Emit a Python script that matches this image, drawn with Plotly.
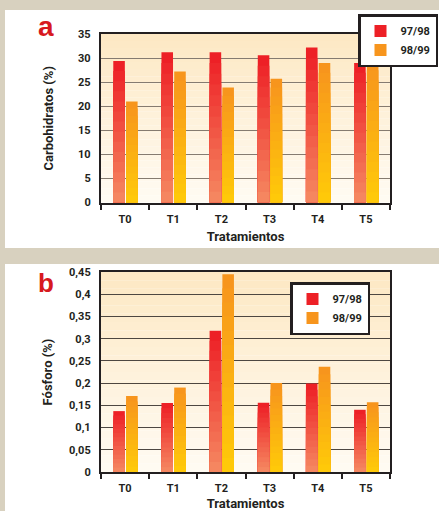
import plotly.graph_objects as go

categories = ["T0", "T1", "T2", "T3", "T4", "T5"]
season_names = ["97/98", "98/99"]
carb_9798 = [29.4, 31.2, 31.2, 30.6, 32.2, 29.0]
carb_9899 = [21.0, 27.2, 23.9, 25.7, 29.0, 29.6]
fosf_9798 = [0.137, 0.155, 0.318, 0.156, 0.199, 0.140]
fosf_9899 = [0.171, 0.190, 0.445, 0.200, 0.237, 0.157]
carb_ticks = [0, 5, 10, 15, 20, 25, 30, 35]
fosf_ticks = [0, 0.05, 0.1, 0.15, 0.2, 0.25, 0.3, 0.35, 0.4, 0.45]

W, H = 439, 511
FONT = "Roboto, Liberation Sans, sans-serif"
DARK = "#231f20"


def hex2rgb(h):
    h = h.lstrip("#")
    return tuple(int(h[i:i + 2], 16) for i in (0, 2, 4))


def mix(c1, c2, t):
    a, b = hex2rgb(c1), hex2rgb(c2)
    return "rgb(%d,%d,%d)" % tuple(round(a[i] + (b[i] - a[i]) * t) for i in range(3))


def px_x(x):
    return x / W


def px_y(y):
    return 1 - y / H


fig = go.Figure()

N = 14
series_styles = [
    ("#ed1c24", "#f58a62", -0.245),
    ("#f7931e", "#ffcb08", 0.02),
]


def add_series(values, name, style, xa, ya, legend):
    top, bottom, offset = style
    for k in range(N):
        frac = (N - k) / N
        t = (k + 0.5) / N
        fig.add_trace(go.Bar(
            x=categories,
            y=[v * frac for v in values],
            name=name,
            legendgroup=legend + name,
            legend=legend,
            showlegend=(k == 0),
            marker=dict(color=mix(top, bottom, t), line=dict(width=0)),
            width=0.24,
            offset=offset,
            xaxis=xa,
            yaxis=ya,
            hoverinfo="skip" if k else None,
        ))


add_series(carb_9798, season_names[0], series_styles[0], "x", "y", "legend")
add_series(carb_9899, season_names[1], series_styles[1], "x", "y", "legend")
add_series(fosf_9798, season_names[0], series_styles[0], "x2", "y2", "legend2")
add_series(fosf_9899, season_names[1], series_styles[1], "x2", "y2", "legend2")

shapes = []
# white panels
shapes.append(dict(type="rect", xref="paper", yref="paper", x0=px_x(5), x1=1.0,
                   y0=px_y(248), y1=px_y(10), fillcolor="white", line=dict(width=0), layer="below"))
shapes.append(dict(type="rect", xref="paper", yref="paper", x0=px_x(5), x1=1.0,
                   y0=0.0, y1=px_y(264), fillcolor="white", line=dict(width=0), layer="below"))
# plot background gradients
NB = 24
for xd, yd in (("x domain", "y domain"), ("x2 domain", "y2 domain")):
    for i in range(NB):
        shapes.append(dict(type="rect", xref=xd, yref=yd, x0=0, x1=1,
                           y0=1 - (i + 1) / NB, y1=1 - i / NB,
                           fillcolor=mix("#fde8c3", "#fffbf3", (i + 0.5) / NB),
                           line=dict(width=0), layer="below"))

axis_common = dict(
    showline=True, linewidth=2.2, linecolor=DARK, mirror=True, automargin=False,
    tickfont=dict(family=FONT, size=11, color=DARK, weight="bold"),
)

xaxis_common = dict(
    axis_common,
    type="category", categoryorder="array", categoryarray=categories,
    range=[-0.5, 5.5], tickson="boundaries", ticks="outside", ticklen=5, tickwidth=2,
    tickcolor=DARK, showgrid=False, zeroline=False,
    domain=[px_x(101), px_x(390)],
    ticklabelstandoff=5,
    title=dict(text="Tratamientos", font=dict(family=FONT, size=13, color=DARK, weight="bold"), standoff=7),
)

yaxis_common = dict(
    axis_common,
    zeroline=False, ticks="", showgrid=True, gridwidth=1.3,
    ticklabelstandoff=6,
)

fig.update_layout(
    width=W, height=H, autosize=False,
    margin=dict(l=0, r=0, t=0, b=0, autoexpand=False),
    paper_bgcolor="#d8d1bf",
    plot_bgcolor="#fffbf3",
    barmode="overlay",
    separators=",.",
    showlegend=True,
    shapes=shapes,
    xaxis=dict(xaxis_common, anchor="y"),
    yaxis=dict(yaxis_common, anchor="x", domain=[px_y(202.5), px_y(34)],
               range=[0, 35], tickvals=carb_ticks, gridcolor="#857b70",
               title=dict(text="Carbohidratos (%)", font=dict(family=FONT, size=13, color=DARK, weight="bold"), standoff=22)),
    xaxis2=dict(xaxis_common, anchor="y2"),
    yaxis2=dict(yaxis_common, anchor="x2", domain=[px_y(472), px_y(272)],
                range=[0, 0.45], tickvals=fosf_ticks, gridcolor="#4d4741",
                title=dict(text="Fósforo (%)", font=dict(family=FONT, size=13, color=DARK, weight="bold"), standoff=14)),
    legend=dict(x=px_x(358), y=px_y(14), xanchor="left", yanchor="top",
                bgcolor="white", bordercolor=DARK, borderwidth=2.5,
                font=dict(family=FONT, size=11, color=DARK, weight="bold"),
                traceorder="normal", itemwidth=30),
    legend2=dict(x=px_x(290), y=px_y(282), xanchor="left", yanchor="top",
                 bgcolor="white", bordercolor=DARK, borderwidth=2.5,
                 font=dict(family=FONT, size=11, color=DARK, weight="bold"),
                 traceorder="normal", itemwidth=30),
    annotations=[
        dict(text="a", xref="paper", yref="paper", x=px_x(46), y=px_y(26), showarrow=False,
             font=dict(family="Liberation Sans, Arial, sans-serif", size=28, color="#d71920", weight="bold"),
             xanchor="center", yanchor="middle"),
        dict(text="b", xref="paper", yref="paper", x=px_x(46), y=px_y(283), showarrow=False,
             font=dict(family="Liberation Sans, Arial, sans-serif", size=26, color="#d71920", weight="bold"),
             xanchor="center", yanchor="middle"),
    ],
)

fig.write_html("out.html", config={"displayModeBar": False},
               post_script="document.body.style.margin='0';")
